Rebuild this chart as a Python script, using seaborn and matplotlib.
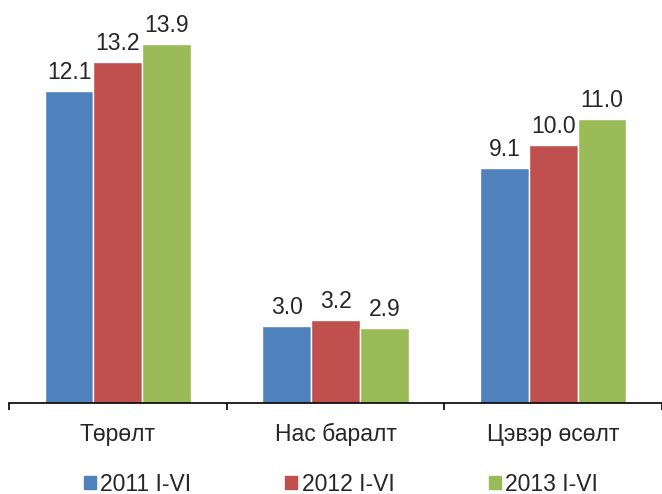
import pandas as pd
import matplotlib
matplotlib.use("Agg")
import matplotlib.pyplot as plt
import matplotlib.patches as mpatches
import seaborn as sns

# Chart data
categories = ["Төрөлт", "Нас баралт", "Цэвэр өсөлт"]
periods = ["2011 I-VI", "2012 I-VI", "2013 I-VI"]
v2011 = [12.1, 3.0, 9.1]
v2012 = [13.2, 3.2, 10.0]
v2013 = [13.9, 2.9, 11.0]
colors = ["#4F81BD", "#C0504D", "#9BBB59"]

df = pd.DataFrame({
    "category": categories * 3,
    "period": [periods[0]] * 3 + [periods[1]] * 3 + [periods[2]] * 3,
    "value": v2011 + v2012 + v2013,
})

sns.set_style("white")
plt.rcParams["font.family"] = ["Liberation Sans", "DejaVu Sans"]

fig = plt.figure(figsize=(6.62, 4.94), dpi=100)
ax = fig.add_axes([9 / 662, 1 - 403 / 494, 1 - 9 / 662, 403 / 494])

sns.barplot(data=df, x="category", y="value", hue="period", palette=colors,
            width=0.672, saturation=1, gap=0, ax=ax, legend=False)

for c in ax.containers:
    ax.bar_label(c, fmt="%.1f", padding=5, fontsize=16.5)

ax.set_ylim(0, 15.62)
ax.set_xlim(-0.5, -0.5 + 653 / 221.5)
ax.set_xticks([-0.5, 0.5, 1.5, 2.5], minor=False)
ax.set_xticks([0, 1, 2], minor=True)
ax.set_xticklabels([], minor=False)
ax.set_xticklabels(categories, minor=True, fontsize=16.5)
ax.tick_params(axis="x", which="major", direction="out", length=5, width=1.2, color="black", bottom=True)
ax.tick_params(axis="x", which="minor", length=0, pad=14.5)
ax.set_yticks([])
ax.set_xlabel("")
ax.set_ylabel("")
for s in ["top", "right", "left"]:
    ax.spines[s].set_visible(False)
ax.spines["bottom"].set_color("black")
ax.spines["bottom"].set_linewidth(1.2)

handles = [mpatches.Patch(color=col, label=p) for col, p in zip(colors, periods)]
fig.legend(handles=handles, loc="center", bbox_to_anchor=(341 / 662, 1 - 484 / 494),
           ncol=3, frameon=False, fontsize=16.5, handlelength=0.52, handleheight=0.52,
           handletextpad=0.2, columnspacing=4.1, borderpad=0)

fig.savefig("out.png", dpi=100)
